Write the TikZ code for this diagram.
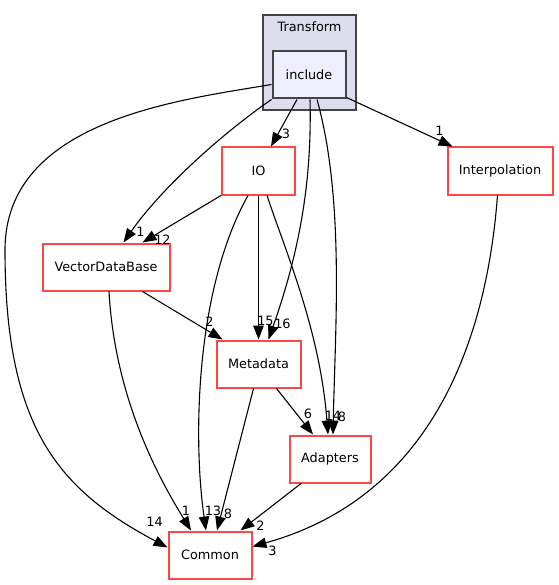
\documentclass[tikz,border=0pt]{standalone}
\usepackage{fontspec}
\setmainfont{DejaVu Sans}
\usepackage{tikz}
\usetikzlibrary{arrows.meta,calc}
\definecolor{dirred}{RGB}{255,70,70}
\definecolor{clusterfill}{RGB}{221,221,238}
\definecolor{incfill}{RGB}{238,238,255}
\definecolor{framegray}{RGB}{68,68,68}

\begin{document}
\begin{tikzpicture}[x=1bp,y=-1bp,>={Triangle[length=14pt,width=10.5pt]},
  font=\fontsize{12.9}{14}\selectfont,
  dirbox/.style={draw=dirred,line width=2bp,fill=white,minimum height=47bp,inner sep=0pt},
  incbox/.style={draw=framegray,line width=2bp,fill=incfill,minimum height=47bp,minimum width=73bp,inner sep=0pt},
  lbl/.style={inner sep=0pt,font=\fontsize{12.9}{14}\selectfont},
  dep/.style={->,line width=1.1bp}]
  \path[fill=white,use as bounding box] (0,0) rectangle (559,585);
  % the Transform folder and its include sub folder
  \node[draw=framegray,line width=2bp,fill=clusterfill,minimum width=93bp,minimum height=95bp,inner sep=0pt] (transform) at (309,63) {};
  \node (transformname) at (309.5,27) {Transform};
  \node[incbox] (inc) at (309,75) {include};
  % the other folders
  \node[dirbox,minimum width=73bp] (io) at (258.5,171) {IO};
  \node[dirbox,minimum width=105bp] (interp) at (500,171) {Interpolation};
  \node[dirbox,minimum width=127bp] (vdb) at (106,267) {VectorDataBase};
  \node[dirbox,minimum width=84bp] (meta) at (258.5,364) {Metadata};
  \node[dirbox,minimum width=81bp] (adap) at (330,459) {Adapters};
  \node[dirbox,minimum width=83bp] (common) at (210,555) {Common};
  % dependencies from include
  \draw[dep] ($(inc.west)+(0,9.5)$) .. controls (180,100) and (5,120) .. (5,250)
    .. controls (5,430) and (60,490) .. ($(common.west)+(0,-7.5)$)
    node[lbl,at end,xshift=-13pt,yshift=26pt] (l1) {14};
  \draw[dep] (inc.south west) .. controls (220,135) and (160,190) .. ($(vdb.north)+(17.5,0)$)
    node[lbl,at end,xshift=17pt,yshift=11pt] (l2) {1};
  \draw[dep] ($(inc.south)+(-12,0)$) -- ($(io.north)+(12.5,0)$)
    node[lbl,at end,xshift=15pt,yshift=13pt] (l3) {3};
  \draw[dep] ($(inc.south)+(1,0)$) .. controls (312,180) and (300,250) .. ($(meta.north)+(10,0)$)
    node[lbl,at end,xshift=14pt,yshift=16pt] (l4) {16};
  \draw[dep] ($(inc.south)+(8,0)$) .. controls (345,200) and (335,330) .. ($(adap.north)+(3,0)$)
    node[lbl,at end,xshift=9pt,yshift=18pt] (l5) {8};
  \draw[dep] ($(inc.south east)+(0,-2)$) -- ($(interp.north west)+(6,0)$)
    node[lbl,at end,xshift=-13pt,yshift=16pt] (l6) {1};
  % dependencies from IO
  \draw[dep] (io.south west) -- ($(vdb.north)+(36.5,0)$)
    node[lbl,at end,xshift=20pt,yshift=3pt] (l7) {12};
  \draw[dep] ($(io.south)+(-10.5,0)$) .. controls (195,290) and (193,440) .. ($(common.north)+(-4,0)$)
    node[lbl,at end,xshift=7pt,yshift=20pt] (l8) {13};
  \draw[dep] (io.south) -- (meta.north)
    node[lbl,at end,xshift=7pt,yshift=19pt] (l9) {15};
  \draw[dep] ($(io.south)+(8.5,0)$) .. controls (285,250) and (320,330) .. ($(adap.north)+(-2,0)$)
    node[lbl,at end,xshift=5pt,yshift=19pt] (l10) {14};
  % the remaining dependencies
  \draw[dep] ($(vdb.south)+(3,0)$) .. controls (115,400) and (160,480) .. ($(common.north)+(-19,0)$)
    node[lbl,at end,xshift=-5pt,yshift=20pt] (l11) {1};
  \draw[dep] ($(vdb.south)+(36.5,0)$) -- ($(meta.north west)+(7,0)$)
    node[lbl,at end,xshift=-13pt,yshift=18pt] (l12) {2};
  \draw[dep] ($(meta.south)+(-5,0)$) -- ($(common.north)+(7,0)$)
    node[lbl,at end,xshift=11pt,yshift=17pt] (l13) {8};
  \draw[dep] ($(meta.south)+(18,0)$) -- ($(adap.north)+(-17,0)$)
    node[lbl,at end,xshift=-5pt,yshift=21pt] (l14) {6};
  \draw[dep] ($(adap.south)+(-29,0)$) -- ($(common.north east)+(-12,0)$)
    node[lbl,at end,xshift=20pt,yshift=5pt] (l15) {2};
  \draw[dep] ($(interp.south)+(-2.5,0)$) .. controls (485,360) and (420,500) .. ($(common.east)+(0,-8.5)$)
    node[lbl,at end,xshift=20pt,yshift=-4pt] (l16) {3};
\end{tikzpicture}
\end{document}
